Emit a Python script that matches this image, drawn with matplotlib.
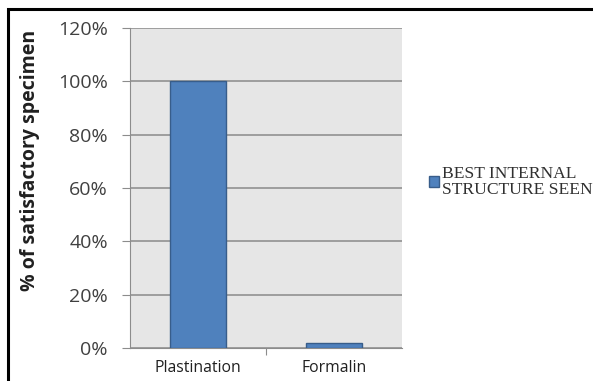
import matplotlib.pyplot as plt
from matplotlib.patches import Rectangle
from matplotlib.ticker import FuncFormatter

# data
categories = ["Plastination", "Formalin"]
values = [100, 2]
series_name = "BEST INTERNAL\nSTRUCTURE SEEN"
y_ticks = [0, 20, 40, 60, 80, 100, 120]

fig = plt.figure(figsize=(5.93, 3.81), dpi=100)
fig.patch.set_facecolor("white")

# outer frame (cut off at right/bottom like the screenshot)
fig.add_artist(Rectangle((8 / 593, -0.05), 1.2, 1 - 9 / 381 + 0.05,
                         transform=fig.transFigure, fill=False,
                         edgecolor="black", linewidth=2.2))

ax = fig.add_axes([130 / 593, 1 - 348 / 381, 272 / 593, 320 / 381])
ax.set_facecolor("#e6e6e6")

bars = ax.bar(range(len(categories)), values, width=0.41,
              color="#4f81bd", edgecolor="#385d8a", linewidth=1,
              label=series_name, zorder=3)

ax.set_xlim(-0.5, len(categories) - 0.5)
ax.set_ylim(0, 120)
ax.set_yticks(y_ticks)
ax.yaxis.set_major_formatter(FuncFormatter(lambda v, p: f"{int(v)}%"))
ax.grid(axis="y", color="#8a8a8a", linewidth=1.1, zorder=1)

ax.set_xticks([0.5])
ax.set_xticklabels([""])
ax.tick_params(axis="x", length=5, color="#8c8c8c", direction="out")
ax.tick_params(axis="y", length=6, color="#8c8c8c", direction="out",
               labelsize=14, labelcolor="#404040", pad=10)
for lab in ax.get_yticklabels():
    lab.set_family("Open Sans")

for i, c in enumerate(categories):
    ax.text(i, -4.5, c, ha="center", va="top", fontsize=11.3,
            family="Open Sans", color="#202020",
            transform=ax.transData, clip_on=False)

for side in ["top", "right"]:
    ax.spines[side].set_visible(False)
ax.spines["left"].set_color("#8c8c8c")
ax.spines["bottom"].set_color("#8c8c8c")

ax.set_ylabel("% of satisfactory specimen", fontsize=14, fontweight="bold",
              family="Open Sans", color="#202020")
ax.yaxis.set_label_coords(-(130 - 40) / 272, 0.585)

leg = fig.legend(handles=[bars], labels=[series_name],
                 loc="center left", bbox_to_anchor=(413 / 593, 1 - 182 / 381),
                 frameon=False, handlelength=0.6, handleheight=0.6,
                 handletextpad=0.15, prop={"family": "Liberation Serif", "size": 12.6})
for t in leg.get_texts():
    t.set_color("#303030")
    t.set_linespacing(0.95)

fig.savefig("out.png", dpi=100)
